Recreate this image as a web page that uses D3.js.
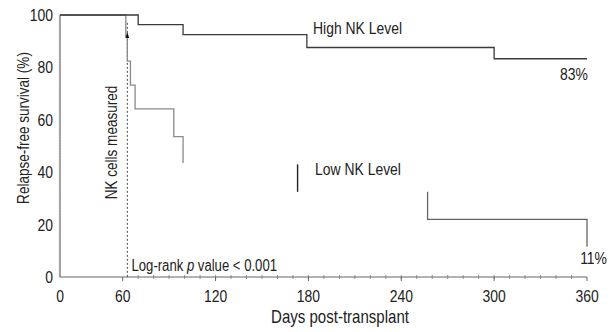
<!DOCTYPE html>
<html>
<head>
<meta charset="utf-8">
<script src="https://cdn.jsdelivr.net/npm/d3@7"></script>
<style>
  body { margin: 0; background: #fff; }
  svg { display: block; }
  text { font-family: "Liberation Sans", Arial, sans-serif; fill: #222; }
</style>
</head>
<body>
<div id="chart"></div>
<script>
// days post-transplant vs relapse-free survival (%), step data
const highDays = [0, 70, 99, 179, 300, 360];
const highSurv = [100, 96.3, 92.5, 87.6, 83.3, 83.3];

// low NK curve is only partly visible in the figure
const lowEarlyDays = [0, 62, 63, 65, 68, 93, 99];
const lowEarlySurv = [100, 91.7, 82.4, 73.2, 64.2, 53.6, 43.5];
const lowMidDays = [173, 173];
const lowMidSurv = [43, 32.5];
const lowLateDays = [257, 257, 360];
const lowLateSurv = [32.5, 22, 11.5];

const measuredDay = 63;
const xTicks = [0, 60, 120, 180, 240, 300, 360];
const xMinor = d3.range(70, 360, 10);
const yTicks = [0, 20, 40, 60, 80, 100];

const W = 616, H = 332;
const NARROW = 0.82; // no narrow font installed, squeeze Liberation Sans

const svg = d3.select("#chart").append("svg")
  .attr("width", W).attr("height", H);

// first 60 days are squeezed on the axis
const x = d3.scaleLinear().domain([0, 60, 360]).range([60, 122.7, 587]);
const y = d3.scaleLinear().domain([0, 100]).range([277, 15]);

function pts(days, surv) {
  return days.map((d, i) => [d, surv[i]]);
}

function label(px, py, str, size, anchor, rot, sx) {
  return svg.append("text")
    .attr("transform", `translate(${px},${py}) rotate(${rot || 0}) scale(${sx || NARROW},1)`)
    .attr("text-anchor", anchor || "start")
    .style("font-size", size + "px")
    .text(str);
}

const stepLine = d3.line()
  .x(d => x(d[0]))
  .y(d => y(d[1]))
  .curve(d3.curveStepAfter);

// axes
const yAxis = svg.append("g").attr("transform", `translate(${x(0)},0)`);
yAxis.append("line")
  .attr("y1", y(0)).attr("y2", y(100))
  .attr("stroke", "#666").attr("stroke-width", 1.2);
yAxis.selectAll(".ym")
  .data(d3.range(0, 101, 1))
  .join("line")
  .attr("x1", -1.5).attr("x2", 0)
  .attr("y1", d => y(d)).attr("y2", d => y(d))
  .attr("stroke", "#aaa").attr("stroke-width", 0.6);
yTicks.forEach(d => {
  label(x(0) - 7, y(d) + 6, d, 17, "end");
});

const xAxis = svg.append("g").attr("transform", `translate(0,${y(0)})`);
xAxis.append("line")
  .attr("x1", x(0)).attr("x2", x(360))
  .attr("stroke", "#666").attr("stroke-width", 1.2);
xAxis.selectAll(".xm")
  .data(xMinor)
  .join("line")
  .attr("x1", d => x(d)).attr("x2", d => x(d))
  .attr("y1", -2).attr("y2", 2)
  .attr("stroke", "#777").attr("stroke-width", 0.8);
xAxis.selectAll(".xt")
  .data(xTicks.slice(1))
  .join("line")
  .attr("x1", d => x(d)).attr("x2", d => x(d))
  .attr("y1", 0).attr("y2", 4)
  .attr("stroke", "#666").attr("stroke-width", 1);
xTicks.forEach(d => {
  label(x(d), y(0) + 25, d, 17, "middle");
});

label(340, 323, "Days post-transplant", 17.5, "middle", 0, 0.86);
label(29, 128, "Relapse-free survival (%)", 16.5, "middle", -90);

// NK measurement marker
svg.append("line")
  .attr("x1", x(measuredDay)).attr("x2", x(measuredDay))
  .attr("y1", y(97)).attr("y2", y(0))
  .attr("stroke", "#333").attr("stroke-width", 0.9)
  .attr("stroke-dasharray", "2,2");

label(116.5, 142.5, "NK cells measured", 16.5, "middle", -90);

// curves
svg.append("path")
  .attr("d", stepLine(pts(lowEarlyDays, lowEarlySurv)))
  .attr("fill", "none").attr("stroke", "#8a8a8a").attr("stroke-width", 1.3);
svg.append("path")
  .attr("d", stepLine(pts(lowMidDays, lowMidSurv)))
  .attr("fill", "none").attr("stroke", "#222").attr("stroke-width", 1.4);
svg.append("path")
  .attr("d", stepLine(pts(lowLateDays, lowLateSurv)))
  .attr("fill", "none").attr("stroke", "#666").attr("stroke-width", 1.3);
svg.append("path")
  .attr("d", stepLine(pts(highDays, highSurv)))
  .attr("fill", "none").attr("stroke", "#3a3a3a").attr("stroke-width", 1.3);

// small arrow head on the low curve
const ax = x(measuredDay), ay = y(93.5);
svg.append("path")
  .attr("d", `M${ax},${ay} L${ax - 1.8},${ay + 6} L${ax + 1.8},${ay + 6} Z`)
  .attr("fill", "#111");

// labels
label(313, 33.5, "High NK Level", 17);
label(315, 175, "Low NK Level", 17);
label(x(360) + 1, 80, "83%", 17, "end");
label(607, 264, "11%", 17, "end");

const lr = svg.append("text")
  .attr("transform", `translate(131.5,271) scale(${NARROW},1)`)
  .style("font-size", "16px");
lr.append("tspan").text("Log-rank ");
lr.append("tspan").style("font-style", "italic").text("p");
lr.append("tspan").text(" value < 0.001");
</script>
</body>
</html>
